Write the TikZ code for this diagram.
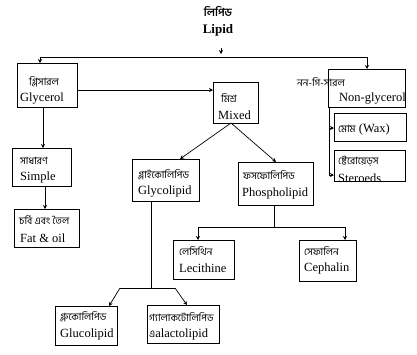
\documentclass[tikz,border=0pt]{standalone}
\usepackage{fontspec}
\setmainfont{Liberation Serif}
\newfontfamily\bn[Script=Bengali]{Hind Siliguri}
\usetikzlibrary{arrows.meta}
\begin{document}
\begin{tikzpicture}[x=1pt,y=-1pt,
  box/.style={draw,line width=0.8pt,inner sep=0pt,anchor=north west},
  lt/.style={inner sep=0pt,anchor=west,font=\fontsize{12.5}{14}\selectfont},
  bt/.style={inner sep=0pt,anchor=west,font=\bn\fontsize{10}{12}\selectfont},
  conn/.style={line width=0.7pt},
  arr/.style={line width=0.7pt,-{Stealth[length=4pt,width=4pt]}}]
\useasboundingbox (0,0) rectangle (417,354);
% title
\node[inner sep=0pt,font=\bn\bfseries\fontsize{11}{12}\selectfont] (tb) at (218,12) {লিপিড};
\node[inner sep=0pt,font=\bfseries\fontsize{13}{14}\selectfont] (tl) at (218,30) {Lipid};
% boxes
\node[box,minimum width=60pt,minimum height=44pt] (gly) at (17,63) {};
\node[box,minimum width=45pt,minimum height=41pt] (mix) at (213,82) {};
\node[box,minimum width=77pt,minimum height=38pt] (ngl) at (328,69) {};
\node[box,minimum width=72pt,minimum height=28pt] (wax) at (334,113) {};
\node[box,minimum width=71pt,minimum height=31pt] (ste) at (334,150) {};
\node[box,minimum width=59pt,minimum height=38pt] (sim) at (12,148) {};
\node[box,minimum width=65pt,minimum height=38pt] (fat) at (14,209) {};
\node[box,minimum width=67pt,minimum height=42pt] (glc) at (132,159) {};
\node[box,minimum width=75pt,minimum height=43pt] (pho) at (238,162) {};
\node[box,minimum width=61pt,minimum height=39pt] (lec) at (173,240) {};
\node[box,minimum width=57pt,minimum height=41pt] (cep) at (299,240) {};
\node[box,minimum width=62pt,minimum height=39pt] (glu) at (55,306) {};
\node[box,minimum width=72pt,minimum height=38pt] (gal) at (147,305) {};
% texts
\node[bt] (glyb) at (29,82) {গ্লিসারল};
\node[lt] (glyl) at (20,99) {Glycerol};
\node[bt] (mixb) at (221,98) {মিশ্র};
\node[lt] (mixl) at (218,115) {Mixed};
\node[bt] (nglb) at (297,82) {নন-গি-সারল};
\node[lt] (ngll) at (339,99) {Non-glycerol};
\node[lt] (waxl) at (338,129) {{\bn\fontsize{10}{12}\selectfont মোম} (Wax)};
\node[bt] (steb) at (338,161) {ষ্টেরোয়েড্স};
\node[lt] (stel) at (338,178) {Steroeds};
\node[bt] (simb) at (20,161) {সাধারণ};
\node[lt] (siml) at (20,177) {Simple};
\node[bt] (fatb) at (19,220) {চর্বি এবং তৈল};
\node[lt] (fatl) at (20,238) {Fat \& oil};
\node[bt] (glcb) at (138,175) {গ্লাইকোলিপিড};
\node[lt] (glcl) at (138,192) {Glycolipid};
\node[bt] (phob) at (243,175) {ফসফোলিপিড};
\node[lt] (phol) at (242,193) {Phospholipid};
\node[bt] (lecb) at (179,251) {লেসিথিন};
\node[lt] (lecl) at (179,268) {Lecithine};
\node[bt] (cepb) at (304,251) {সেফালিন};
\node[lt] (cepl) at (304,268) {Cephalin};
\node[bt] (glub) at (60,317) {গ্লুকোলিপিড};
\node[lt] (glul) at (60,334) {Glucolipid};
\node[bt] (galb) at (149,317) {গ্যালাকটোলিপিড};
\node[lt] (gall) at (149,334) {{\bn\fontsize{10}{12}\selectfont এ}alactolipid};
% coordinates
\coordinate (t0) at (221,48);
\coordinate (t1) at (221,54);
\coordinate (hl) at (40,57);
\coordinate (hr) at (367,57);
\coordinate (nv) at (329,107);
\coordinate (nw) at (329,128);
\coordinate (ns) at (329,175);
\coordinate (pv) at (274,227);
\coordinate (pl) at (198,227);
\coordinate (pr) at (345,227);
\coordinate (gv) at (151,288);
\coordinate (gl) at (120,288);
\coordinate (gr) at (175,288);
% connectors
\draw[arr] (t0) -- (t1);
\draw[conn] (hl) -- (hr);
\draw[arr] (hl) -- (gly.north west -| hl);
\draw[arr] (hr) -- (ngl.north west -| hr);
\draw[arr] (gly.east |- 0,90) -- (mix.west |- 0,90);
\draw[arr] (gly.south west -| 43,0) -- (sim.north west -| 43,0);
\draw[arr] (sim.south west -| 45,0) -- (fat.north west -| 45,0);
\draw[conn] (nv) -- (ns);
\draw[arr] (nw) -- (wax.west |- nw);
\draw[arr] (ns) -- (ste.west |- ns);
\draw[arr] (231,123) -- (180,159);
\draw[arr] (231,123) -- (276,162);
\draw[conn] (pho.south west -| pv) -- (pv);
\draw[conn] (pl) -- (pr);
\draw[arr] (pl) -- (lec.north west -| pl);
\draw[arr] (pr) -- (cep.north west -| pr);
\draw[conn] (glc.south west -| gv) -- (gv);
\draw[conn] (gl) -- (gr);
\draw[arr] (gl) -- (109,306);
\draw[arr] (gr) -- (187,305);
\end{tikzpicture}
\end{document}
